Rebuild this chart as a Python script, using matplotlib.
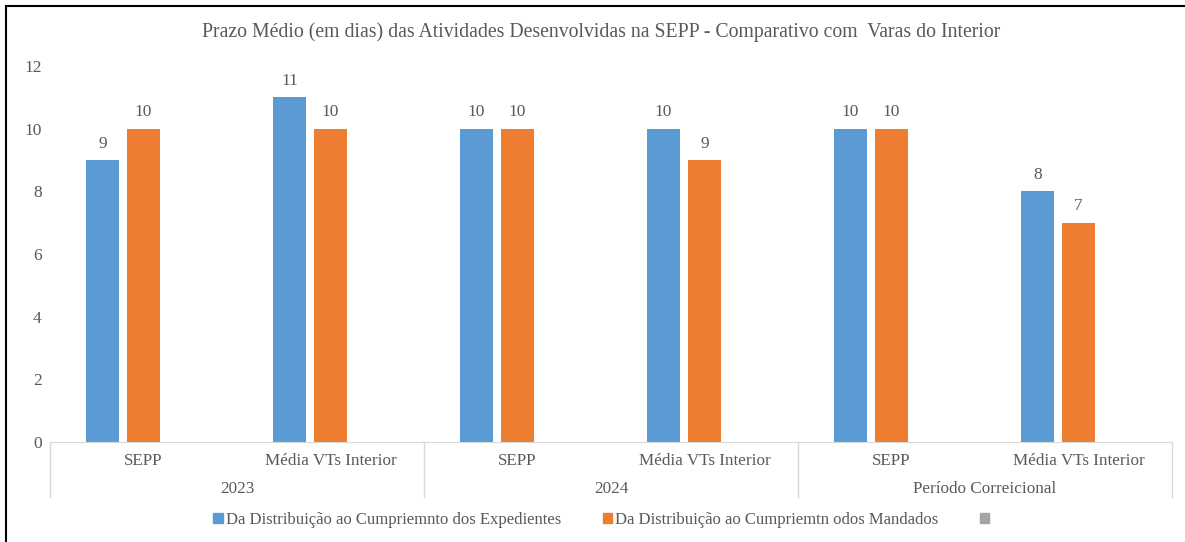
import matplotlib.pyplot as plt
import matplotlib.transforms as mtransforms
from matplotlib.patches import Patch
import numpy as np

plt.rcParams['font.family'] = ['Liberation Serif', 'DejaVu Serif']

# data
groups = ['2023', '2024', 'Período Correicional']
subcats = ['SEPP', 'Média VTs Interior']
expedientes = [9, 11, 10, 10, 10, 8]
mandados = [10, 10, 10, 9, 10, 7]
serie_labels = ['Da Distribuição ao Cumpriemnto dos Expedientes',
                'Da Distribuição ao Cumpriemtn odos Mandados', '']
colors = ['#5B9BD5', '#ED7D31', '#A5A5A5']
txt = '#595959'
grid_c = '#D9D9D9'

fig = plt.figure(figsize=(11.85, 5.42), dpi=100)
ax = fig.add_axes([50/1185, 1 - 442/542, (1172-50)/1185, (442-66)/542])

n = len(expedientes)
x = np.arange(n) + 0.5
w = 0.176
step = 0.219
b1 = ax.bar(x - step, expedientes, w, color=colors[0])
b2 = ax.bar(x, mandados, w, color=colors[1])
for bars, vals in ((b1, expedientes), (b2, mandados)):
    for r, v in zip(bars, vals):
        ax.annotate(str(v), (r.get_x() + r.get_width()/2, v), xytext=(0, 6),
                    textcoords='offset points', ha='center', va='bottom',
                    fontsize=12.5, color=txt)

ax.set_xlim(0, n)
ax.set_ylim(0, 12)
ax.set_yticks(range(0, 13, 2))
ax.tick_params(axis='y', length=0, pad=6, labelsize=12.5, labelcolor=txt)
ax.set_xticks([])
for s in ['top', 'right', 'left']:
    ax.spines[s].set_visible(False)
ax.spines['bottom'].set_color(grid_c)

# multi-level category axis
trans = mtransforms.blended_transform_factory(ax.transData, ax.transAxes)
for i in range(n):
    ax.text(x[i], -19/376, subcats[i % 2], transform=trans, ha='center', va='center',
            fontsize=12.3, color=txt)
for g, name in enumerate(groups):
    ax.text(2*g + 1, -47/376, name, transform=trans, ha='center', va='center',
            fontsize=12.3, color=txt)
for b in range(0, n + 1, 2):
    ax.plot([b, b], [0, -55/376], transform=trans, color=grid_c, lw=1, clip_on=False)

handles = [Patch(color=c, label=l) for c, l in zip(colors, serie_labels)]
fig.legend(handles=handles, loc='center', bbox_to_anchor=(603/1185, 1 - 520/542), ncol=3,
           frameon=False, fontsize=12.0, handlelength=0.55, handleheight=0.55,
           handletextpad=0.2, columnspacing=2.5, labelcolor=txt)

fig.suptitle('Prazo Médio (em dias) das Atividades Desenvolvidas na SEPP - Comparativo com  Varas do Interior',
             x=601/1185, y=1 - 32/542, va='center', fontsize=14.2, color=txt)

# outer frame lines (top and left)
fig.add_artist(plt.Line2D([6/1185, 1], [1 - 6/542, 1 - 6/542], color='black', lw=1.5))
fig.add_artist(plt.Line2D([6/1185, 6/1185], [0, 1 - 6/542], color='black', lw=1.5))

fig.savefig('out.png', dpi=100, facecolor='white')
